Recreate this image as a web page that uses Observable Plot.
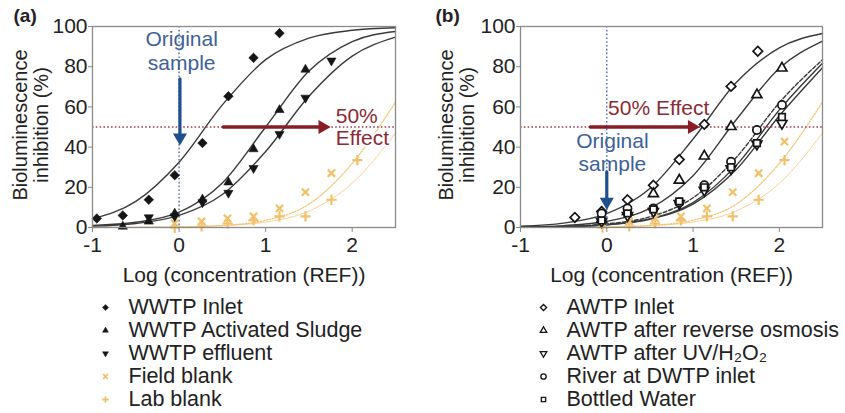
<!DOCTYPE html>
<html><head><meta charset="utf-8">
<script src="https://cdn.jsdelivr.net/npm/d3@7"></script>
<script src="https://cdn.jsdelivr.net/npm/@observablehq/plot@0.6"></script>
<style>
html,body{margin:0;padding:0;background:#fff;}
#wrap{position:relative;width:845px;height:413px;overflow:hidden;background:#fff;}
.cell{position:absolute;}
</style></head><body>
<div id="wrap">
  <div class="cell" id="pa" style="left:0px;top:0px"></div>
  <div class="cell" id="pb" style="left:420px;top:0px"></div>
  <div class="cell" id="la" style="left:0px;top:288px"></div>
  <div class="cell" id="lb" style="left:420px;top:288px"></div>
</div>
<script>
// ---------------- data ----------------
const xTicks = [-1, 0, 1, 2];
const yTicks = [0, 20, 40, 60, 80, 100];
const xTitle = "Log (concentration (REF))";
const yTitle = "Bioluminescence\ninhibition (%)";

const seriesA = ["WWTP Inlet", "WWTP Activated Sludge", "WWTP effluent", "Field blank", "Lab blank"];
const seriesB = ["AWTP Inlet", "AWTP after reverse osmosis", "AWTP after UV/H₂O₂", "River at DWTP inlet", "Bottled Water"];

// panel (a) measured points
const wwtpInletX    = [-0.95, -0.65, -0.35, -0.05, 0.27, 0.57, 0.86, 1.16];
const wwtpInletY    = [4.5, 6, 13.8, 26, 42, 65.3, 84.4, 96.7];
const wwtpSludgeX   = [-0.65, -0.35, -0.05, 0.27, 0.57, 0.86, 1.16, 1.46];
const wwtpSludgeY   = [0.5, 3, 7, 14, 22.5, 39, 58.5, 78.6];
const wwtpEffluentX = [-0.35, -0.05, 0.27, 0.57, 0.86, 1.16, 1.46, 1.76];
const wwtpEffluentY = [5, 5.5, 12.5, 17.2, 29.5, 46.5, 64.5, 83];

// blanks (shown in both panels)
const blankX      = [-0.05, 0.26, 0.56, 0.86, 1.16, 1.46, 1.76, 2.06];
const fieldBlankY = [2, 3, 4.5, 5.5, 9.5, 17.6, 27, 42.7];
const labBlankY   = [0, 0.5, 2, 3.5, 5.5, 5.5, 13.8, 33.5];

// panel (b) measured points
const awtpInletX = [-0.37, -0.06, 0.24, 0.54, 0.84, 1.13, 1.44, 1.75];
const awtpInletY = [5, 8, 13.8, 21, 33.8, 51.3, 70.2, 87.7];
const dilutionX  = [-0.06, 0.24, 0.54, 0.84, 1.13, 1.44, 1.74, 2.03];
const awtpRoY    = [4, 8, 16.8, 23.5, 35.5, 50.2, 66, 79.3];
const awtpUvY    = [3, 6, 8, 12, 18.5, 29.3, 41.5, 51.8];
const riverY     = [7, 9.5, 9.5, 12.5, 21, 32.7, 48.5, 61];
const bottledY   = [3.5, 7, 9, 13, 20, 30, 42, 55];

// fitted curves, values at these x positions
const curveX          = [-1, -0.5, 0, 0.5, 1, 1.5, 2, 2.5];
const wwtpInletFit    = [4.4, 13.0, 32.5, 61.0, 83.5, 94.2, 98.1, 99.4];
const wwtpSludgeFit   = [1.0, 2.6, 7.6, 22.2, 50.0, 77.8, 92.5, 97.5];
const wwtpEffluentFit = [0.7, 2.0, 6.0, 16.4, 37.8, 65.3, 85.3, 94.7];
const fieldBlankFit   = [0.0, 0.1, 0.3, 1.0, 3.6, 11.6, 31.9, 62.4];
const labBlankFit     = [0.0, 0.1, 0.3, 0.9, 2.7, 8.2, 22.0, 47.0];
const awtpInletFit    = [0.7, 2.2, 6.9, 19.4, 44.0, 72.1, 89.4, 96.5];
const awtpRoFit       = [0.3, 0.95, 3.1, 9.5, 25.8, 53.6, 79.2, 92.7];
const riverFit        = [0.2, 0.6, 1.8, 5.3, 14.8, 34.8, 62.1, 83.5];
const awtpUvFit       = [0.14, 0.42, 1.35, 4.1, 11.6, 28.8, 55.6, 79.5];
const bottledFit      = [0.14, 0.45, 1.4, 4.3, 12.4, 30.9, 58.5, 81.7];

// annotations (data coordinates)
const effectLevel = 50;
const sampleLevel = 0;
const annA = {arrowX: 0.01, arrowY1: 74, arrowY2: 40.8, effX1: 0.51, effX2: 1.75,
              origX: 0.03, origY: 88, effTextX: 1.81, effTextY: 50.2,
              origText: "Original\nsample", effText: "50%\nEffect"};
const annB = {arrowX: 0.0, arrowY1: 27.7, arrowY2: 8.8, effX1: -0.19, effX2: 1.08,
              origX: 0.065, origY: 37.7, effTextX: 0.015, effTextY: 59.3,
              origText: "Original\nsample", effText: "50% Effect"};

// ---------------- styles ----------------
const font = "'Liberation Sans', Arial, Helvetica, sans-serif";
const ink = "#151515";
const axisGray = "#8a8a8a";
const blankCol = "#f3c06a";
const blueArrow = "#1f4f8f", blueText = "#3d6198", blueLine = "#4a6db0";
const redArrow = "#8a1c26", redText = "#8c2b36", redLine = "#a0404e";

const STY = {
  "WWTP Inlet":            {symbol: "diamond2", r: 4.3, fill: ink, stroke: ink, strokeWidth: 0.6},
  "WWTP Activated Sludge": {symbol: "triangle", r: 3.4, fill: ink, stroke: ink, strokeWidth: 0.6},
  "WWTP effluent":         {symbol: "triangle", rotate: 180, r: 3.4, fill: ink, stroke: ink, strokeWidth: 0.6},
  "Field blank":           {symbol: "times", r: 3.4, fill: "none", stroke: blankCol, strokeWidth: 2.2},
  "Lab blank":             {symbol: "plus", r: 3.4, fill: "none", stroke: blankCol, strokeWidth: 2.2},
  "AWTP Inlet":            {symbol: "diamond2", r: 4.3, fill: "white", stroke: ink, strokeWidth: 1.7},
  "AWTP after reverse osmosis": {symbol: "triangle", r: 3.7, fill: "white", stroke: ink, strokeWidth: 1.7},
  "AWTP after UV/H₂O₂":    {symbol: "triangle", rotate: 180, r: 3.7, fill: "white", stroke: ink, strokeWidth: 1.7},
  "River at DWTP inlet":   {symbol: "circle", r: 4.1, fill: "white", stroke: ink, strokeWidth: 1.7},
  "Bottled Water":         {symbol: "square", r: 3.7, fill: "white", stroke: ink, strokeWidth: 1.7}
};
const blackCurve = {stroke: "#3a3a3a", strokeWidth: 1.4};
const dashCurve = {stroke: "#3a3a3a", strokeWidth: 1.4, strokeDasharray: "4,2"};
const blankDotted = {stroke: blankCol, strokeWidth: 1.3, strokeDasharray: "1.5,1.5", strokeOpacity: 0.9};
const blankSolid = {stroke: blankCol, strokeWidth: 1, strokeOpacity: 0.7};

// ---------------- helpers ----------------
const pts = (xs, ys) => xs.map((x, i) => ({x, y: ys[i]}));
const fit = (ys) => curveX.map((x, i) => ({x, y: ys[i]}));
const fmt = d => d < 0 ? "-" + Math.abs(d) : String(d);

function panel(o) {
  const marks = [];
  for (const c of o.fits) marks.push(Plot.line(fit(c.y), {x: "x", y: "y", curve: "monotone-x", ...c.style}));
  marks.push(Plot.ruleY([effectLevel], {stroke: redLine, strokeWidth: 1.4, strokeDasharray: "1.6,2.2"}));
  marks.push(Plot.ruleX([sampleLevel], {stroke: blueLine, strokeWidth: 1.4, strokeDasharray: "1.6,2.2"}));
  for (const s of o.points) marks.push(Plot.dot(pts(s.x, s.y), {x: "x", y: "y", ...STY[s.name]}));
  const a = o.ann;
  marks.push(Plot.text([a.origText], {x: a.origX, y: a.origY, text: d => d, fill: blueText, fontSize: 21, lineHeight: o.origLH, textAnchor: "middle", lineAnchor: "middle"}));
  marks.push(Plot.text([a.effText], {x: a.effTextX, y: a.effTextY, text: d => d, fill: redText, fontSize: 21, lineHeight: 1.05, textAnchor: "start", lineAnchor: "middle",
    stroke: "white", strokeWidth: o.halo, paintOrder: "stroke"}));
  marks.push(Plot.arrow([a], {x1: "arrowX", x2: "arrowX", y1: "arrowY1", y2: "arrowY2", headLength: 0, insetEnd: 6, stroke: blueArrow, strokeWidth: 3.2}));
  marks.push(Plot.dot([a], {x: "arrowX", y: "arrowY2", symbol: "triangle", rotate: 180, r: 5.2, fill: blueArrow, stroke: "none", dy: -8}));
  marks.push(Plot.arrow([a], {x1: "effX1", x2: "effX2", y1: () => effectLevel, y2: () => effectLevel, headLength: 0, insetEnd: 6, stroke: redArrow, strokeWidth: 3.4}));
  marks.push(Plot.dot([a], {x: "effX2", y: () => effectLevel, symbol: "triangle", rotate: 90, r: 5.2, fill: redArrow, stroke: "none", dx: -8}));
  marks.push(Plot.frame({stroke: axisGray, strokeWidth: 1.3}));
  marks.push(Plot.axisX({ticks: xTicks, tickFormat: fmt, tickSize: 5, tickPadding: 5, fontSize: 21, stroke: axisGray, label: null}));
  marks.push(Plot.axisY({ticks: yTicks, tickSize: 4, tickPadding: 1, fontSize: 21, stroke: axisGray, label: null}));
  marks.push(Plot.text([xTitle], {frameAnchor: "bottom", dy: 48, text: d => d, fontSize: 21, fill: "#222", textAnchor: "middle", lineAnchor: "middle"}));
  marks.push(Plot.text([yTitle], {frameAnchor: "left", dx: o.yTitleDx, dy: -2, rotate: -90, text: d => d, fontSize: 20, lineHeight: 1.05, fill: "#222", textAnchor: "middle", lineAnchor: "middle"}));
  marks.push(Plot.text([o.letter], {frameAnchor: "top-left", dx: o.letterDx, dy: -11, textAnchor: "start", lineAnchor: "middle", text: d => d, fontSize: 19, fontWeight: "bold", fill: "#222"}));
  return Plot.plot({
    width: o.width, height: 290,
    marginLeft: o.ml, marginRight: o.mr, marginTop: 26, marginBottom: 63,
    x: {domain: [-1, 2.5], axis: null},
    y: {domain: [0, 100], axis: null},
    style: {fontFamily: font, fontSize: "21px", color: "#222", background: "white", overflow: "visible"},
    marks
  });
}

function legend(names, o) {
  const marks = [];
  for (const n of names) {
    const s = STY[n];
    marks.push(Plot.dot([n], {y: d => d, frameAnchor: "left", dx: o.symX, ...s, r: s.r * 0.65, strokeWidth: s.strokeWidth * 0.8}));
  }
  marks.push(Plot.text(names, {y: d => d, text: d => d, frameAnchor: "left", dx: o.textX, textAnchor: "start", lineAnchor: "middle", fontSize: 21.5, fill: "#222"}));
  return Plot.plot({
    width: o.width, height: 125, margin: 0,
    x: {domain: [0, 1], axis: null},
    y: {type: "point", domain: names, range: [17.5, 113], padding: 0, axis: null},
    style: {fontFamily: font, fontSize: "21px", color: "#222", background: "white", overflow: "visible"},
    marks
  });
}

// ---------------- render ----------------
const blankFits = [{y: fieldBlankFit, style: blankDotted}, {y: labBlankFit, style: blankSolid}];
const blankPts = [{name: "Field blank", x: blankX, y: fieldBlankY}, {name: "Lab blank", x: blankX, y: labBlankY}];

document.getElementById("pa").appendChild(panel({
  width: 420, ml: 92, mr: 25, letter: "(a)", letterDx: -79, yTitleDx: -61.5, origLH: 1.14, halo: 4,
  fits: [...blankFits,
    {y: wwtpInletFit, style: blackCurve}, {y: wwtpSludgeFit, style: blackCurve}, {y: wwtpEffluentFit, style: blackCurve}],
  points: [...blankPts,
    {name: "WWTP Inlet", x: wwtpInletX, y: wwtpInletY},
    {name: "WWTP Activated Sludge", x: wwtpSludgeX, y: wwtpSludgeY},
    {name: "WWTP effluent", x: wwtpEffluentX, y: wwtpEffluentY}],
  ann: annA
}));

document.getElementById("pb").appendChild(panel({
  width: 425, ml: 100, mr: 23, letter: "(b)", letterDx: -85, yTitleDx: -64, origLH: 1.1, halo: 0,
  fits: [...blankFits,
    {y: awtpInletFit, style: blackCurve}, {y: awtpRoFit, style: blackCurve}, {y: riverFit, style: dashCurve},
    {y: awtpUvFit, style: blackCurve}, {y: bottledFit, style: blackCurve}],
  points: [...blankPts,
    {name: "AWTP Inlet", x: awtpInletX, y: awtpInletY},
    {name: "AWTP after reverse osmosis", x: dilutionX, y: awtpRoY},
    {name: "AWTP after UV/H₂O₂", x: dilutionX, y: awtpUvY},
    {name: "River at DWTP inlet", x: dilutionX, y: riverY},
    {name: "Bottled Water", x: dilutionX, y: bottledY}],
  ann: annB
}));

document.getElementById("la").appendChild(legend(seriesA, {width: 420, symX: 105, textX: 128}));
document.getElementById("lb").appendChild(legend(seriesB, {width: 425, symX: 123, textX: 146}));
</script>
</body></html>
